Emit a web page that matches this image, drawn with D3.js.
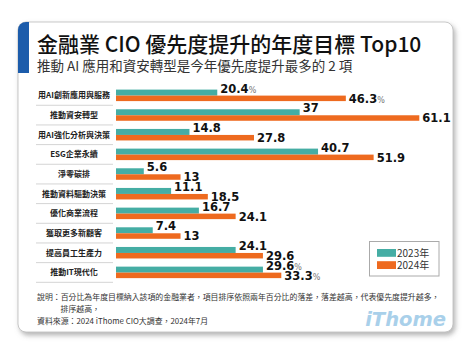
<!DOCTYPE html>
<html><head><meta charset="utf-8">
<script src="https://cdn.jsdelivr.net/npm/d3@7/dist/d3.min.js"></script>
<style>html,body{margin:0;padding:0;background:#fff;}svg{display:block;}</style>
</head><body>
<script>
const categories = ["用AI創新應用與服務","推動資安轉型","用AI強化分析與決策","ESG企業永續","淨零碳排","推動資料驅動決策","優化商業流程","獲取更多新顧客","提高員工生產力","推動IT現代化"];
const values2023 = [20.4,37,14.8,40.7,5.6,11.1,16.7,7.4,24.1,29.6];
const values2024 = [46.3,61.1,27.8,51.9,13,18.5,24.1,13,29.6,33.3];
const pctRows = [0, 9];
const seriesNames = ["2023年","2024年"];
const colors = ["#45ada4","#ee6a1f"];
const title = "金融業 CIO 優先度提升的年度目標 Top10";
const subtitle = "推動 AI 應用和資安轉型是今年優先度提升最多的 2 項";
const notes = ["說明：百分比為年度目標納入該項的金融業者，項目排序依照兩年百分比的落差，落差越高，代表優先度提升越多，","排序越高，","資料來源：2024 iThome CIO大調查，2024年7月"];

const W = 474, H = 354;
const svg = d3.select("body").append("svg").attr("width", W).attr("height", H);
const defs = svg.append("defs");
const f = defs.append("filter").attr("id","sh").attr("x","-10%").attr("y","-10%").attr("width","120%").attr("height","125%");
f.append("feDropShadow").attr("dx",2).attr("dy",3).attr("stdDeviation",2.5).attr("flood-color","#777").attr("flood-opacity",0.55);
defs.append("clipPath").attr("id","cardclip").append("rect").attr("x",18).attr("y",22).attr("width",435).attr("height",310).attr("rx",8);

svg.append("rect").attr("x",18).attr("y",22).attr("width",435).attr("height",310).attr("rx",8)
  .attr("fill","#fff").attr("stroke","#bbb").attr("stroke-width",0.8).attr("filter","url(#sh)");
svg.append("rect").attr("x",18).attr("y",22).attr("width",11).attr("height",51).attr("fill","#1c5cab").attr("clip-path","url(#cardclip)");

const cjk = "'Noto Sans CJK TC','Noto Sans CJK SC',sans-serif";
svg.append("text").attr("x",37).attr("y",52).attr("font-family",cjk).attr("font-size",21).attr("font-weight",500).attr("fill","#111").text(title);
svg.append("text").attr("x",37).attr("y",70.5).attr("font-family",cjk).attr("font-size",13.5).attr("fill","#333").text(subtitle);

const x = d3.scaleLinear().domain([0, 61.1]).range([116, 419.3]);
const y = d3.scaleBand().domain(categories).range([85.6, 282.3]).padding(0);

const g = svg.append("g");
// separators
g.selectAll("line.sep").data(categories).join("line")
  .attr("x1",36).attr("x2",113)
  .attr("y1",d=>y(d)+y.bandwidth()).attr("y2",d=>y(d)+y.bandwidth())
  .attr("stroke","#d4d4d4").attr("stroke-width",1);
// labels
g.selectAll("text.cat").data(categories).join("text")
  .attr("x",74).attr("y",d=>y(d)+y.bandwidth()/2+3)
  .attr("text-anchor","middle").attr("font-family",cjk).attr("font-size",8).attr("font-weight",700).attr("fill","#222")
  .text(d=>d);

const series = [values2023, values2024];
const offs = [{y:4,h:6,ly:7.2},{y:10,h:5.5,ly:17.2}];
series.forEach((vals, si) => {
  const data = categories.map((c,i)=>({c, v: vals[i], i}));
  g.selectAll(null).data(data).join("rect")
    .attr("x",x(0)).attr("y",d=>y(d.c)+offs[si].y)
    .attr("width",d=>x(d.v)-x(0)).attr("height",offs[si].h)
    .attr("fill",colors[si]);
  const t = g.selectAll(null).data(data).join("text")
    .attr("x",d=>x(d.v)+3).attr("y",d=>y(d.c)+offs[si].ly)
    .attr("font-family","'DejaVu Sans',sans-serif").attr("font-weight",700).attr("font-size",11.5).attr("fill","#111");
  t.append("tspan").text(d=>d.v);
  t.filter(d=>pctRows.includes(d.i)).append("tspan").attr("font-size",8).attr("font-weight",400).attr("fill","#777").text("%");
});

// legend
const lg = svg.append("g");
lg.append("rect").attr("x",369.5).attr("y",241.5).attr("width",69.5).attr("height",34.5).attr("fill","#fff").attr("stroke","#aaa").attr("stroke-width",1);
seriesNames.forEach((n,i)=>{
  lg.append("rect").attr("x",377).attr("y",249+i*12.2).attr("width",19).attr("height",7.8).attr("fill",colors[i]);
  lg.append("text").attr("x",397).attr("y",256.8+i*12.2).attr("font-family",cjk).attr("font-size",10).attr("fill","#333").text(n);
});

// notes
const nxs = [37,60.5,37], nys=[299.5,312,323.5];
notes.forEach((n,i)=>{
  svg.append("text").attr("x",nxs[i]).attr("y",nys[i]).attr("font-family",cjk).attr("font-size",7.9).attr("fill","#333").text(n);
});
svg.append("text").attr("x",446).attr("y",325.5).attr("text-anchor","end").attr("font-family","'DejaVu Sans',sans-serif")
  .attr("font-weight",700).attr("font-style","italic").attr("font-size",19.5).attr("fill","#a9d0ea").text("iThome");
</script>
</body></html>
